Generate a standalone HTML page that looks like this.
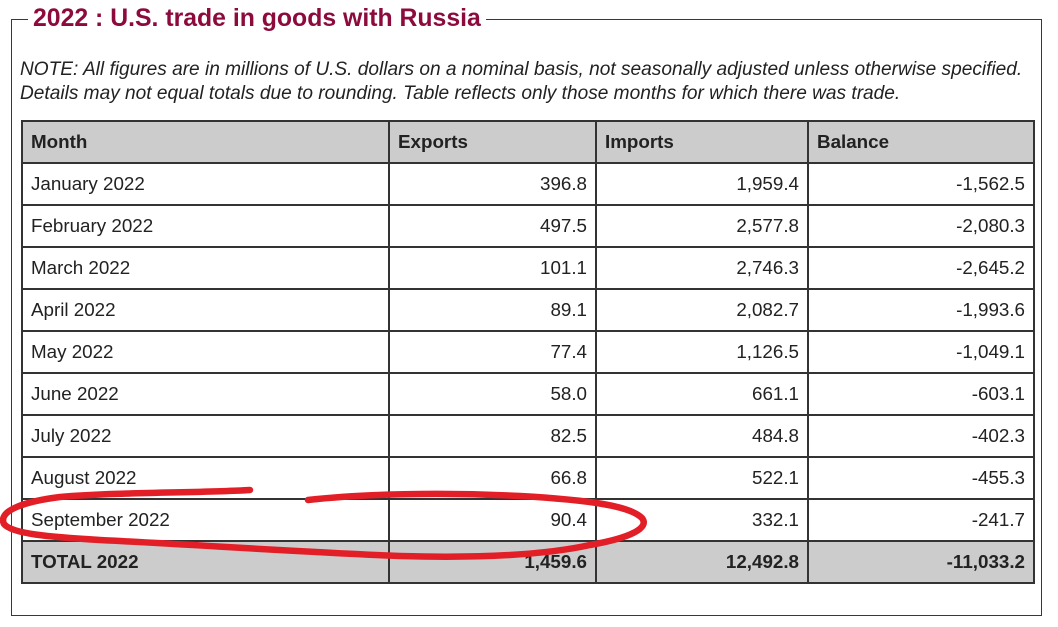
<!DOCTYPE html>
<html><head><meta charset="utf-8"><style>
body{margin:0;background:#fff;width:1058px;height:627px;position:relative;overflow:hidden;font-family:"Liberation Sans",Arial,sans-serif}
.frame{position:absolute;left:11px;top:19px;width:1029px;height:595px;border:1px solid #7a1440}
.title{position:absolute;left:28px;top:4px;background:#fff;padding:0 5px;color:#8c0b3c;font-weight:bold;font-size:24.8px;line-height:30px}
.note{position:absolute;left:20px;top:58px;font-style:italic;font-size:19.1px;line-height:24px;color:#222;white-space:nowrap}
table{position:absolute;left:21px;top:120px;border-collapse:collapse;table-layout:fixed;width:1012px}
td,th{border:2px solid #333;height:40px;padding:0 8px;font-size:18.8px;color:#222;text-align:right}
th{background:#ccc;text-align:left;font-weight:bold}
td:first-child{text-align:left}
tr.tot td{background:#ccc;font-weight:bold}
svg{position:absolute;left:0;top:0}
</style></head><body>
<div class="frame"></div>
<div class="title">2022 : U.S. trade in goods with Russia</div>
<div class="note">NOTE: All figures are in millions of U.S. dollars on a nominal basis, not seasonally adjusted unless otherwise specified.<br>Details may not equal totals due to rounding. Table reflects only those months for which there was trade.</div>
<table>
<colgroup><col style="width:367px"><col style="width:207px"><col style="width:212px"><col style="width:226px"></colgroup>
<tr><th>Month</th><th>Exports</th><th>Imports</th><th>Balance</th></tr>
<tr><td>January 2022</td><td>396.8</td><td>1,959.4</td><td>-1,562.5</td></tr>
<tr><td>February 2022</td><td>497.5</td><td>2,577.8</td><td>-2,080.3</td></tr>
<tr><td>March 2022</td><td>101.1</td><td>2,746.3</td><td>-2,645.2</td></tr>
<tr><td>April 2022</td><td>89.1</td><td>2,082.7</td><td>-1,993.6</td></tr>
<tr><td>May 2022</td><td>77.4</td><td>1,126.5</td><td>-1,049.1</td></tr>
<tr><td>June 2022</td><td>58.0</td><td>661.1</td><td>-603.1</td></tr>
<tr><td>July 2022</td><td>82.5</td><td>484.8</td><td>-402.3</td></tr>
<tr><td>August 2022</td><td>66.8</td><td>522.1</td><td>-455.3</td></tr>
<tr><td>September 2022</td><td>90.4</td><td>332.1</td><td>-241.7</td></tr>
<tr class="tot"><td>TOTAL 2022</td><td>1,459.6</td><td>12,492.8</td><td>-11,033.2</td></tr>
</table>
<svg width="1058" height="627"><path d="M250,490 C200,493 120,492 60,497 C20,502 -2,512 4,524 C12,534 50,537 100,540 C200,545 300,552 400,556 C470,558 540,556 590,545 C630,538 650,528 642,518 C630,506 590,500 520,496 C440,492 360,494 308,500" fill="none" stroke="#e21f27" stroke-width="6.5" stroke-linecap="round"/></svg>
</body></html>
